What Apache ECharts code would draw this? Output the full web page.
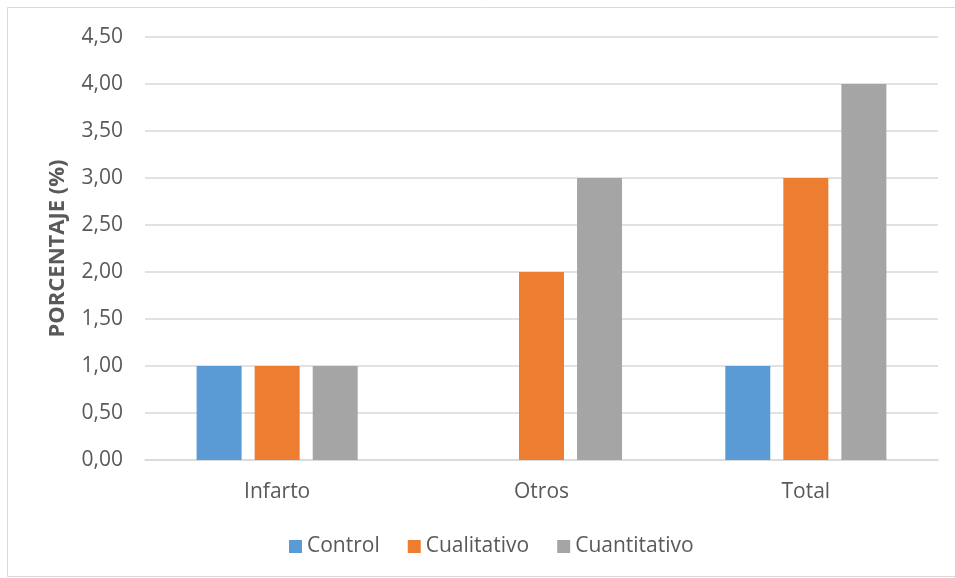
<!DOCTYPE html>
<html><head><meta charset="utf-8">
<script src="https://cdn.jsdelivr.net/npm/echarts@6/dist/echarts.min.js"></script>
<style>html,body{margin:0;padding:0;background:#fff}#c{width:955px;height:578px}</style>
</head><body><div id="c"></div>
<script>
var categories = ['Infarto', 'Otros', 'Total'];
var control = [1, 0, 1];
var cualitativo = [1, 2, 3];
var cuantitativo = [1, 3, 4];
var seriesNames = ['Control', 'Cualitativo', 'Cuantitativo'];
var colors = ['#5B9BD5', '#ED7D31', '#A5A5A5'];
var yTicks = {min: 0, max: 4.5, interval: 0.5};

var chart = echarts.init(document.getElementById('c'));
var font = '"Open Sans", "Liberation Sans", sans-serif';
function bar(name, data, color) {
  return {name: name, type: 'bar', data: data, barWidth: 45, barGap: '29%',
    itemStyle: {color: color}};
}
chart.setOption({
  animation: false,
  textStyle: {fontFamily: font},
  graphic: [{type: 'rect', shape: {x: 7.5, y: 7.5, width: 960, height: 569},
    style: {fill: 'none', stroke: '#D9D9D9', lineWidth: 1}, silent: true}],
  grid: {left: 145, right: 17, top: 37, bottom: 118},
  legend: {bottom: 16, left: 284, itemWidth: 13, itemHeight: 13, itemGap: 28,
    icon: 'rect', textStyle: {fontSize: 21, color: '#595959', fontFamily: font},
    data: seriesNames},
  xAxis: {type: 'category', data: categories,
    axisLine: {lineStyle: {color: '#D9D9D9', width: 1.5}}, axisTick: {show: false},
    axisLabel: {fontSize: 21, color: '#595959', margin: 22, fontFamily: font}},
  yAxis: {type: 'value', min: yTicks.min, max: yTicks.max, interval: yTicks.interval,
    name: 'PORCENTAJE (%)', nameLocation: 'middle', nameGap: 76,
    nameTextStyle: {fontSize: 22, fontWeight: 'bold', color: '#595959', fontFamily: font},
    axisLine: {show: false}, axisTick: {show: false},
    splitLine: {lineStyle: {color: '#D9D9D9', width: 1.5}},
    axisLabel: {fontSize: 21, color: '#595959', margin: 22, fontFamily: font,
      formatter: function (v) { return v.toFixed(2).replace('.', ','); }}},
  series: [bar(seriesNames[0], control, colors[0]),
           bar(seriesNames[1], cualitativo, colors[1]),
           bar(seriesNames[2], cuantitativo, colors[2])]
});
</script></body></html>
